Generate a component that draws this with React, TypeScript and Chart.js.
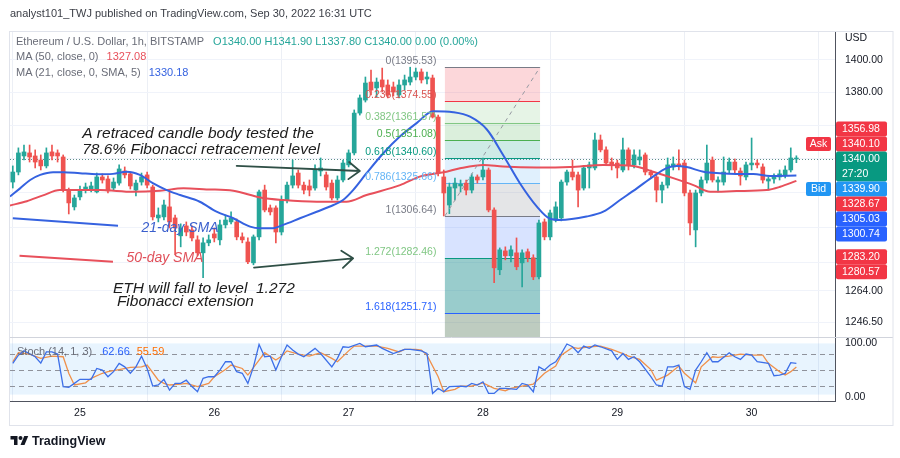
import React, { useEffect, useRef } from "react";
import { Chart, registerables } from "chart.js";

Chart.register(...registerables);

const FONT = '"Liberation Sans", Arial, Helvetica, sans-serif';

// ---------- time axis (hours from 25 Sep 00:00) ----------
const xMinHour = -12.5;
const xMaxHour = 134.9;
const dayTicks = [0, 24, 48, 72, 96, 120];
const dayLabels = ["25", "26", "27", "28", "29", "30"];

// ---------- price axis ----------
const priceMin = 1238.5;
const priceMax = 1417.45;
const priceTicks = [1246.5, 1264, 1280, 1300, 1320, 1340, 1360, 1380, 1400];

// ---------- stochastic axis ----------
const stochMin = -8;
const stochMax = 112;
const stochTicks = [0, 100];
const stochLevels = [80, 50, 20];
const stochBand = [4, 100];

// ---------- candles (1h) ----------
const firstCandleHour = -12;
const opens = [
  1326.4, 1332.3, 1341.8, 1343.6, 1341.8, 1339.4, 1335.9, 1344.2, 1343.6, 1341.2,
  1321.7, 1311.9, 1317.7, 1321.7, 1322.3, 1320.6, 1329.4, 1328.2, 1322.9, 1325.8,
  1332.9, 1331.2, 1321.7, 1326.4, 1330.6, 1323.5, 1305.5, 1306.1, 1311.9, 1305.5,
  1295.2, 1300.9, 1298.6, 1292.9, 1285.5, 1291.2, 1296.3, 1292.9, 1301.5, 1303.2,
  1303.2, 1294.6, 1291.7, 1279.8, 1294.6, 1321.7, 1311.3, 1311.3, 1297.4, 1315.9,
  1324.6, 1331.7, 1324.6, 1324.1, 1322.9, 1332.9, 1330.6, 1325.8, 1317.1, 1327.6,
  1336.5, 1343.6, 1367.5, 1375.4, 1386.4, 1382.8, 1387.7, 1384.6, 1383.4, 1378.5,
  1384.6, 1386.4, 1389.5, 1392.6, 1388.3, 1388.9, 1365.1, 1329.4, 1313.0, 1322.9,
  1324.1, 1325.8, 1321.7, 1329.4, 1329.4, 1333.5, 1310.1, 1275.9, 1286.6, 1283.8,
  1285.5, 1279.8, 1286.1, 1282.7, 1271.9, 1303.2, 1294.6, 1304.3, 1305.5, 1326.4,
  1332.3, 1330.6, 1322.9, 1334.7, 1334.7, 1351.3, 1345.4, 1338.2, 1337.6, 1333.5,
  1345.4, 1336.5, 1339.4, 1342.4, 1332.3, 1329.4, 1321.7, 1324.6, 1335.3, 1337.1,
  1337.6, 1320.0, 1298.6, 1320.0, 1327.6, 1339.4, 1326.4, 1326.4, 1333.5, 1338.2,
  1332.9, 1329.4, 1336.5, 1337.6, 1335.3, 1327.0, 1328.2, 1329.4, 1330.6, 1333.5,
  1340.0,
];
const highs = [
  1335.9, 1346.6, 1348.3, 1348.3, 1345.4, 1342.4, 1346.6, 1348.3, 1345.4, 1342.4,
  1322.9, 1318.8, 1324.1, 1325.8, 1326.4, 1331.7, 1331.2, 1330.0, 1328.8, 1336.5,
  1335.3, 1332.3, 1327.6, 1331.7, 1332.3, 1324.6, 1311.3, 1315.9, 1321.7, 1307.2,
  1302.1, 1303.2, 1300.9, 1295.2, 1294.0, 1295.7, 1299.7, 1304.3, 1307.2, 1309.0,
  1304.9, 1296.9, 1294.0, 1295.7, 1321.7, 1324.6, 1313.0, 1312.5, 1318.3, 1326.4,
  1339.4, 1333.5, 1326.4, 1327.6, 1336.5, 1340.6, 1332.3, 1327.6, 1330.0, 1339.4,
  1345.4, 1369.4, 1378.5, 1389.5, 1393.8, 1388.9, 1395.0, 1387.7, 1386.4, 1387.7,
  1390.7, 1395.53, 1395.0, 1394.5, 1392.6, 1390.7, 1366.3, 1333.5, 1325.8, 1328.8,
  1327.6, 1327.6, 1331.2, 1330.6, 1340.6, 1334.7, 1311.3, 1288.3, 1288.9, 1289.5,
  1294.0, 1287.2, 1287.7, 1284.4, 1304.3, 1304.9, 1310.1, 1314.8, 1327.6, 1333.5,
  1339.4, 1332.3, 1335.9, 1338.2, 1355.5, 1354.3, 1347.2, 1340.6, 1339.4, 1352.5,
  1346.6, 1345.4, 1345.4, 1343.6, 1333.5, 1330.6, 1326.4, 1340.6, 1341.2, 1345.4,
  1339.4, 1321.7, 1321.7, 1329.4, 1348.3, 1341.2, 1329.4, 1341.2, 1340.6, 1340.0,
  1334.7, 1338.2, 1352.5, 1339.4, 1337.1, 1329.4, 1331.2, 1333.5, 1335.9, 1346.6,
  1341.9,
];
const lows = [
  1322.9, 1330.6, 1339.4, 1338.2, 1334.7, 1333.5, 1334.7, 1339.4, 1338.2, 1320.6,
  1307.8, 1310.1, 1315.9, 1320.0, 1320.6, 1320.0, 1325.8, 1320.0, 1321.7, 1324.6,
  1328.8, 1322.3, 1318.3, 1324.6, 1322.9, 1304.3, 1303.2, 1304.3, 1299.7, 1284.4,
  1288.9, 1295.2, 1292.3, 1283.8, 1271.4, 1289.5, 1291.7, 1290.0, 1299.7, 1302.1,
  1292.9, 1291.2, 1279.3, 1278.7, 1292.9, 1309.0, 1307.2, 1291.2, 1295.7, 1314.2,
  1322.9, 1322.9, 1319.4, 1318.3, 1321.7, 1330.0, 1321.7, 1315.9, 1315.9, 1326.4,
  1335.3, 1342.4, 1366.3, 1374.2, 1378.5, 1377.3, 1380.3, 1376.7, 1377.9, 1376.7,
  1381.5, 1384.6, 1387.7, 1385.8, 1385.2, 1364.5, 1330.0, 1306.64, 1308.0, 1315.9,
  1320.6, 1318.8, 1320.0, 1325.8, 1327.6, 1309.0, 1268.6, 1273.1, 1281.5, 1280.4,
  1275.9, 1266.3, 1280.4, 1270.3, 1270.8, 1292.9, 1292.9, 1303.2, 1303.8, 1324.6,
  1327.6, 1311.9, 1321.7, 1322.9, 1333.5, 1344.2, 1336.5, 1333.5, 1328.8, 1332.3,
  1333.5, 1334.7, 1336.5, 1330.6, 1328.8, 1314.8, 1314.2, 1322.9, 1333.5, 1333.5,
  1318.3, 1295.7, 1288.9, 1318.3, 1325.8, 1326.4, 1320.6, 1324.6, 1331.7, 1331.7,
  1324.6, 1327.6, 1333.5, 1334.7, 1325.8, 1321.7, 1325.8, 1327.6, 1328.8, 1332.3,
  1337.8,
];
const closes = [
  1332.3, 1343.6, 1344.2, 1341.2, 1338.2, 1335.9, 1343.6, 1341.8, 1341.8, 1321.7,
  1314.2, 1317.1, 1321.7, 1323.5, 1324.1, 1329.4, 1327.6, 1321.2, 1326.4, 1334.1,
  1330.6, 1324.1, 1325.8, 1329.4, 1324.6, 1306.1, 1307.2, 1313.0, 1303.2, 1299.7,
  1299.7, 1297.4, 1294.0, 1285.5, 1291.2, 1292.9, 1294.0, 1301.5, 1304.3, 1305.5,
  1294.6, 1292.9, 1280.4, 1294.6, 1320.6, 1310.1, 1309.0, 1297.4, 1315.9, 1324.6,
  1330.0, 1324.6, 1321.7, 1321.7, 1333.5, 1334.7, 1323.5, 1317.1, 1327.6, 1337.6,
  1343.6, 1367.5, 1376.7, 1385.8, 1381.5, 1386.4, 1383.4, 1378.5, 1380.3, 1384.6,
  1387.7, 1389.5, 1392.6, 1387.7, 1389.5, 1365.1, 1331.7, 1320.0, 1323.5, 1325.8,
  1325.2, 1321.7, 1329.4, 1327.6, 1333.5, 1310.1, 1277.0, 1287.2, 1283.8, 1287.2,
  1277.6, 1285.5, 1282.7, 1271.9, 1302.6, 1294.6, 1308.4, 1311.9, 1326.4, 1332.3,
  1329.4, 1321.7, 1334.7, 1336.5, 1351.3, 1345.4, 1337.6, 1336.5, 1334.7, 1345.4,
  1336.5, 1342.4, 1341.2, 1332.3, 1330.6, 1321.7, 1324.6, 1336.5, 1337.1, 1335.9,
  1320.0, 1302.6, 1320.0, 1327.6, 1337.6, 1327.6, 1327.6, 1332.3, 1338.2, 1333.5,
  1330.0, 1336.5, 1337.6, 1336.5, 1327.6, 1328.2, 1329.4, 1331.2, 1333.5, 1340.6,
  1340.0,
];
const lastPrice = 1340.0;

// ---------- moving averages ----------
const ma21Hours = [
  -12.5, -10.7, -8.9, -7.1, -4.8, -3.0, 0, 3.0, 5.9, 8.3, 10.7, 13.1, 15.5, 17.9, 21.4,
  24.4, 27.4, 30.4, 32.2, 34.5, 36.3, 39.3, 42.3, 45.3, 47.0, 48.8, 51.2, 54.2, 57.2,
  60.2, 63.1, 66.7, 69.7, 72.7, 75.6, 78.6, 81.6, 84.0, 85.8, 90.5, 93.5, 96.5, 99.5,
  102.4, 104.8, 106.6, 108.4, 111.4, 114.3, 117.3, 120.3, 123.3, 128.0,
];
const ma21Values = [
  1317.9, 1322.7, 1327.6, 1330.6, 1332.2, 1332.2, 1331.6, 1331.0, 1331.2, 1332.5, 1330.6,
  1325.6, 1321.7, 1318.8, 1314.9, 1309.1, 1305.3, 1300.5, 1299.6, 1299.6, 1301.5, 1305.3,
  1309.1, 1313.0, 1315.9, 1321.7, 1331.6, 1343.4, 1353.5, 1361.6, 1368.6, 1368.0, 1365.3,
  1357.6, 1342.4, 1325.7, 1312.2, 1305.0, 1304.3, 1306.3, 1309.1, 1315.9, 1322.7, 1329.6,
  1334.6, 1335.9, 1335.2, 1332.5, 1331.6, 1331.2, 1331.2, 1330.0, 1330.18,
];
const ma50Hours = [
  -12.5, -9.5, -6.6, -3.6, -0.6, 3.6, 9.5, 14.3, 18.5, 22.6, 27.4, 32.2, 36.3, 42.3, 47.6,
  51.2, 57.2, 60.7, 65.5, 67.9, 72.1, 75.6, 81.6, 87.5, 93.5, 98.9, 102.4, 106.0, 109.6,
  112.6, 117.3, 122.7, 125.1, 128.0,
];
const ma50Values = [
  1312.7, 1315.2, 1318.6, 1321.7, 1321.7, 1321.7, 1320.7, 1321.3, 1322.7, 1322.1, 1321.3,
  1317.4, 1315.9, 1314.9, 1314.9, 1318.8, 1324.6, 1329.6, 1332.5, 1334.5, 1336.5, 1335.5,
  1334.9, 1335.2, 1336.5, 1335.9, 1332.5, 1328.7, 1324.6, 1320.7, 1321.1, 1321.7, 1323.6,
  1327.08,
];

// ---------- stochastic (14, 1, 3) ----------
const stochKHours = [
  -12, -11, -10, -8, -7, -6, -5, -4, -3, -2, -1, 0, 2, 3, 4, 5, 6, 7, 8, 9,
  10, 11, 12, 13, 14, 15, 16, 17, 18, 19, 20, 21, 22, 23, 24, 25, 26, 27, 28, 29,
  30, 31, 32, 33, 34, 35, 36, 37, 38, 39, 40, 42, 43, 45, 46, 47, 48, 50, 51, 53,
  54, 56, 58, 59, 61, 62, 63, 64, 65, 66, 68, 69, 70, 71, 72, 73, 74, 75, 76, 78,
  79, 80, 81, 82, 83, 84, 85, 86, 87, 88, 89, 90, 91, 92, 93, 95, 96, 97, 98, 99,
  100, 102, 103, 104, 105, 106, 107, 108, 109, 110, 111, 112, 113, 114, 116, 117, 118, 119, 120, 121,
  123, 124, 125, 126, 127, 128,
];
const stochKValues = [
  62.6, 78, 86, 75, 63, 84, 84, 80, 19, 17.5, 25, 32.6, 32.6, 53, 50, 37.5, 47, 62.6, 56, 44,
  56, 76, 53, 20, 22, 32.6, 12.5, 25, 25, 31, 19, 9.4, 34.5, 37.5, 37.5, 50, 65.6, 65.6, 47, 44,
  25, 56, 98, 75, 76, 50, 75, 97, 87.5, 80, 75, 90.7, 81, 56, 72, 93.7, 92.6, 100, 93.7, 97,
  90.7, 81, 88.8, 88.8, 86, 81, 6.3, 15.6, 9.4, 18.8, 20, 18.8, 25, 22, 28, 6.3, 6.3, 15.6, 15.6, 13.8,
  25, 22, 9.4, 56, 50, 59.4, 65.6, 81, 98.8, 93.7, 82.5, 95, 90.7, 97, 93.7, 86, 70, 81, 70, 75,
  65.6, 37.5, 22, 20, 56, 56, 59.4, 19, 14, 50, 65.6, 82.5, 65.6, 65.6, 82.5, 75, 70, 80, 78, 65.6,
  62.6, 39.4, 40.6, 43.8, 63.8, 62.66,
];
const stochDHours = [
  -12, -11, -9, -7, -5, -3, -2, -1, 1, 2, 4, 5, 7, 9, 11, 12, 14, 15, 16, 18,
  19, 21, 23, 24, 26, 27, 29, 30, 32, 33, 35, 36, 37, 39, 41, 43, 45, 46, 48, 49,
  51, 53, 55, 57, 58, 60, 61, 62, 64, 65, 67, 68, 70, 72, 74, 76, 77, 79, 81, 83,
  85, 86, 88, 89, 91, 93, 95, 97, 98, 100, 102, 103, 105, 107, 108, 110, 111, 113, 114, 116,
  118, 120, 122, 123, 125, 126, 127, 128,
];
const stochDValues = [
  65.6, 82.5, 80, 72, 76, 75, 44, 22, 26, 34.5, 44, 47, 51, 55, 56, 59.4, 31, 25, 22, 23.8,
  25, 19, 25, 37.5, 51, 59.4, 53, 40.6, 68.8, 82.5, 68.8, 76, 86, 80, 76, 82.5, 72, 65.6, 86, 95,
  95, 95, 90.7, 84, 88.8, 88.8, 87.5, 78, 37.5, 9.4, 13.8, 20, 20, 26, 15.6, 11.3, 15.6, 20, 23.8, 44,
  57.5, 78, 92.6, 90.7, 93.7, 95, 88.8, 81, 76, 70, 51, 31, 40.6, 57.5, 44, 26, 56, 75, 73.8, 76,
  80, 78, 78, 62.6, 47, 40.6, 47, 55.59,
];

// ---------- Fibonacci drawing ----------
const fibFromHour = 65.2;
const fibToHour = 82.2;
const fibRatios = ["0", "0.236", "0.382", "0.5", "0.618", "0.786", "1", "1.272", "1.618", "2.618"];
const fibPrices = [1395.53, 1374.55, 1361.57, 1351.08, 1340.6, 1325.66, 1306.64, 1282.46, 1251.71, 1162.81];
const fibLineColors = ["#787b86", "#f23645", "#81c784", "#4caf50", "#089981", "#64b5f6", "#787b86", "#089981", "#2962ff", "#f23645"];
const fibLabelColors = ["#787b86", "#d9534f", "#81c784", "#4caf50", "#089981", "#64b5f6", "#787b86", "#81c784", "#2962ff"];
const fibFills = [
  "rgba(242,54,69,0.2)",
  "rgba(129,199,132,0.2)",
  "rgba(76,175,80,0.2)",
  "rgba(8,153,129,0.2)",
  "rgba(100,181,246,0.2)",
  "rgba(120,123,134,0.2)",
  "rgba(41,98,255,0.18)",
  "rgba(0,128,128,0.4)",
  "rgba(70,110,75,0.35)",
];

// ---------- price tags on the axis ----------
const tagValues = [1356.98, 1340.1, 1340.0, 1339.9, 1328.67, 1305.03, 1300.74, 1283.2, 1280.57];
const tagColors = ["#f23645", "#f23645", "#089981", "#2196f3", "#f23645", "#2962ff", "#2962ff", "#f23645", "#f23645"];
const tagSideLabels = ["", "Ask", "", "Bid", "", "", "", "", ""];
const countdownText = "27:20";

// ---------- hand-drawn annotations (hour, price) ----------
const noteLines = [
  { text: "A retraced candle body tested the", hour: 0.4, price: 1355.3, size: 15.5, color: "#1c1c1c" },
  { text: "78.6% Fibonacci retracement level", hour: 0.4, price: 1345.4, size: 15.5, color: "#1c1c1c" },
  { text: "ETH will fall to level  1.272", hour: 5.9, price: 1265.5, size: 15.5, color: "#1c1c1c" },
  { text: "Fibonacci extension", hour: 6.6, price: 1258.0, size: 15.5, color: "#1c1c1c" },
  { text: "21-day SMA", hour: 11.0, price: 1299.5, size: 14, color: "#3a5fcd" },
  { text: "50-day SMA", hour: 8.3, price: 1282.4, size: 14, color: "#e0505a" },
];
const legendSegments = [
  { h0: -12.0, p0: 1305.3, h1: 6.8, p1: 1301.0, color: "#3562e0" },
  { h0: -10.8, p0: 1283.9, h1: 5.9, p1: 1280.5, color: "#e8505b" },
];
const arrows = [
  { h0: 28.0, p0: 1335.9, h1: 50.0, p1: 1332.9 },
  { h0: 31.1, p0: 1277.1, h1: 48.8, p1: 1282.4 },
];

const UP = "#26a69a";
const DOWN = "#ef5350";

const tvPlugin = {
  id: "tvExtras",
  beforeDatasetsDraw(chart: any) {
    const { ctx, chartArea: ca } = chart;
    const xs = chart.scales.x;
    const ys = chart.scales.y;
    const ys2 = chart.scales.y2;
    const w = ca.right - ca.left;
    ctx.save();
    // stochastic background band
    const bt = ys2.getPixelForValue(stochBand[1]);
    const bb = ys2.getPixelForValue(stochBand[0]);
    ctx.fillStyle = "rgba(33,150,243,0.1)";
    ctx.fillRect(ca.left, bt, w, bb - bt);
    ctx.strokeStyle = "#8f929b";
    ctx.lineWidth = 1;
    ctx.setLineDash([5, 4]);
    for (const v of stochLevels) {
      const yy = Math.round(ys2.getPixelForValue(v)) + 0.5;
      ctx.beginPath();
      ctx.moveTo(ca.left, yy);
      ctx.lineTo(ca.right, yy);
      ctx.stroke();
    }
    ctx.setLineDash([]);
    // main pane clip
    ctx.beginPath();
    ctx.rect(ca.left, ys.top, w, ys.bottom - ys.top);
    ctx.clip();
    const fx0 = xs.getPixelForValue(fibFromHour);
    const fx1 = xs.getPixelForValue(fibToHour);
    for (let k = 0; k < fibFills.length; k++) {
      const a = ys.getPixelForValue(fibPrices[k]);
      const b = ys.getPixelForValue(fibPrices[k + 1]);
      ctx.fillStyle = fibFills[k];
      ctx.fillRect(fx0, a, fx1 - fx0, b - a);
    }
    ctx.lineWidth = 1;
    for (let k = 0; k < fibPrices.length; k++) {
      const yy = Math.round(ys.getPixelForValue(fibPrices[k])) + 0.5;
      ctx.strokeStyle = fibLineColors[k];
      ctx.beginPath();
      ctx.moveTo(fx0, yy);
      ctx.lineTo(fx1, yy);
      ctx.stroke();
    }
    // last price dotted line
    const ly = Math.round(ys.getPixelForValue(lastPrice)) + 0.5;
    ctx.strokeStyle = "#5f8d8a";
    ctx.setLineDash([1, 2]);
    ctx.beginPath();
    ctx.moveTo(ca.left, ly);
    ctx.lineTo(ca.right, ly);
    ctx.stroke();
    ctx.setLineDash([]);
    ctx.restore();
  },
  afterDatasetsDraw(chart: any) {
    const { ctx, chartArea: ca } = chart;
    const xs = chart.scales.x;
    const ys = chart.scales.y;
    const w = ca.right - ca.left;
    const X = (h: number) => xs.getPixelForValue(h);
    const Y = (p: number) => ys.getPixelForValue(p);
    ctx.save();
    ctx.beginPath();
    ctx.rect(ca.left, ys.top, w, ys.bottom - ys.top);
    ctx.clip();
    const fx0 = X(fibFromHour);
    const fx1 = X(fibToHour);
    // diagonal trend line of the fib tool
    ctx.strokeStyle = "#9598a1";
    ctx.lineWidth = 1;
    ctx.setLineDash([4, 4]);
    ctx.beginPath();
    ctx.moveTo(fx0, Y(fibPrices[6]));
    ctx.lineTo(fx1, Y(fibPrices[0]));
    ctx.stroke();
    ctx.setLineDash([]);
    // fib labels
    ctx.font = `10.5px ${FONT}`;
    ctx.textAlign = "right";
    ctx.textBaseline = "alphabetic";
    for (let k = 0; k < fibLabelColors.length; k++) {
      ctx.fillStyle = fibLabelColors[k];
      ctx.fillText(`${fibRatios[k]}(${fibPrices[k].toFixed(2)})`, fx0 - 8.5, Y(fibPrices[k]) - 3);
    }
    // legend segments
    ctx.lineWidth = 2;
    for (const s of legendSegments) {
      ctx.strokeStyle = s.color;
      ctx.beginPath();
      ctx.moveTo(X(s.h0), Y(s.p0));
      ctx.lineTo(X(s.h1), Y(s.p1));
      ctx.stroke();
    }
    // arrows
    ctx.strokeStyle = "#2f4f46";
    ctx.lineWidth = 1.8;
    ctx.lineCap = "round";
    for (const a of arrows) {
      const x0 = X(a.h0), y0 = Y(a.p0), x1 = X(a.h1), y1 = Y(a.p1);
      const ang = Math.atan2(y1 - y0, x1 - x0);
      ctx.beginPath();
      ctx.moveTo(x0, y0);
      ctx.lineTo(x1, y1);
      for (const sgn of [-1, 1]) {
        ctx.moveTo(x1, y1);
        ctx.lineTo(x1 - 14 * Math.cos(ang + sgn * 0.66), y1 - 14 * Math.sin(ang + sgn * 0.66));
      }
      ctx.stroke();
    }
    // notes
    ctx.textAlign = "left";
    ctx.textBaseline = "middle";
    for (const n of noteLines) {
      ctx.font = `italic ${n.size}px ${FONT}`;
      ctx.fillStyle = n.color;
      ctx.fillText(n.text, X(n.hour), Y(n.price));
    }
    ctx.restore();

    // ---- axis price tags ----
    ctx.save();
    const H = 15;
    const n = tagValues.length;
    const centers: number[] = new Array(n);
    const mainIdx = tagValues.indexOf(lastPrice);
    centers[mainIdx] = Y(tagValues[mainIdx]);
    for (let k = mainIdx - 1; k >= 0; k--) {
      centers[k] = Math.min(Y(tagValues[k]), centers[k + 1] - H);
    }
    let prevBottom = centers[mainIdx] + H * 1.5;
    for (let k = mainIdx + 1; k < n; k++) {
      centers[k] = Math.max(Y(tagValues[k]), prevBottom + H / 2);
      prevBottom = centers[k] + H / 2;
    }
    const tx = ca.right + 1;
    const tw = 51;
    // hide axis labels that sit under the tags
    ctx.fillStyle = "#ffffff";
    for (let k = 0; k < n; k++) {
      const hh = k === mainIdx ? 2 * H : H;
      ctx.fillRect(tx, centers[k] - H / 2 - 4, chart.width - 8 - tx, hh + 8);
    }
    ctx.font = `10.5px ${FONT}`;
    ctx.textBaseline = "middle";
    for (let k = 0; k < n; k++) {
      const hh = k === mainIdx ? 2 * H : H;
      const top = centers[k] - H / 2;
      ctx.fillStyle = tagColors[k];
      ctx.beginPath();
      ctx.roundRect(tx, top, tw, hh, 2);
      ctx.fill();
      ctx.fillStyle = "#ffffff";
      ctx.textAlign = "left";
      ctx.fillText(tagValues[k].toFixed(2), tx + 6, centers[k] + 0.5);
      if (k === mainIdx) ctx.fillText(countdownText, tx + 6, centers[k] + H + 0.5);
      if (tagSideLabels[k]) {
        ctx.fillStyle = tagColors[k];
        ctx.beginPath();
        ctx.roundRect(ca.right - 29, centers[k] - 7, 25, 14, 2);
        ctx.fill();
        ctx.fillStyle = "#ffffff";
        ctx.textAlign = "center";
        ctx.fillText(tagSideLabels[k], ca.right - 16.5, centers[k] + 0.5);
      }
    }
    // currency label
    ctx.fillStyle = "#131722";
    ctx.textAlign = "left";
    ctx.fillText("USD", ca.right + 10, ys.top + 6);
    // pane separator and frame
    ctx.strokeStyle = "#d1d4dc";
    ctx.lineWidth = 1;
    ctx.beginPath();
    ctx.moveTo(ca.left, Math.round(ys.bottom) + 0.5);
    ctx.lineTo(chart.width - 7, Math.round(ys.bottom) + 0.5);
    ctx.stroke();
    ctx.strokeStyle = "#e0e3eb";
    ctx.strokeRect(9.5, 31.5, chart.width - 16.5, chart.height - 64);
    ctx.restore();
  },
};

export default function App() {
  const ref = useRef<HTMLCanvasElement>(null);
  useEffect(() => {
    const canvas = ref.current;
    if (!canvas) return;
    const candleHours = opens.map((_, i) => firstCandleHour + i);
    const colors = opens.map((o, i) => (closes[i] >= o ? UP : DOWN));
    const chart = new Chart(canvas, {
      type: "bar",
      data: {
        datasets: [
          {
            type: "bar",
            data: candleHours.map((h, i) => ({ x: h, y: [lows[i], highs[i]] })) as any,
            backgroundColor: colors,
            barThickness: 1,
            grouped: false,
            borderWidth: 0,
            yAxisID: "y",
            order: 6,
          } as any,
          {
            type: "bar",
            data: candleHours.map((h, i) => ({ x: h, y: [opens[i], closes[i]] })) as any,
            backgroundColor: colors,
            barThickness: 4,
            grouped: false,
            borderWidth: 0,
            minBarLength: 1,
            yAxisID: "y",
            order: 5,
          } as any,
          {
            type: "line",
            data: ma50Hours.map((h, i) => ({ x: h, y: ma50Values[i] })),
            borderColor: "#e8505b",
            borderWidth: 2,
            pointRadius: 0,
            cubicInterpolationMode: "monotone",
            yAxisID: "y",
            order: 2,
          } as any,
          {
            type: "line",
            data: ma21Hours.map((h, i) => ({ x: h, y: ma21Values[i] })),
            borderColor: "#3562e0",
            borderWidth: 2,
            pointRadius: 0,
            cubicInterpolationMode: "monotone",
            yAxisID: "y",
            order: 1,
          } as any,
          {
            type: "line",
            data: stochDHours.map((h, i) => ({ x: h, y: stochDValues[i] })),
            borderColor: "#f0904a",
            borderWidth: 1.3,
            pointRadius: 0,
            tension: 0,
            yAxisID: "y2",
            order: 1,
          } as any,
          {
            type: "line",
            data: stochKHours.map((h, i) => ({ x: h, y: stochKValues[i] })),
            borderColor: "#3d6fe8",
            borderWidth: 1.3,
            pointRadius: 0,
            tension: 0,
            yAxisID: "y2",
            order: 0,
          } as any,
        ],
      },
      options: {
        animation: false,
        responsive: false,
        events: [],
        layout: { padding: { left: 10, top: 32, right: 7, bottom: 33 } },
        plugins: { legend: { display: false }, tooltip: { enabled: false } },
        scales: {
          x: {
            type: "linear",
            min: xMinHour,
            max: xMaxHour,
            offset: false,
            afterBuildTicks: (s: any) => {
              s.ticks = dayTicks.map((v) => ({ value: v }));
            },
            afterFit: (s: any) => {
              s.height = 24;
            },
            ticks: {
              autoSkip: false,
              maxRotation: 0,
              padding: 6,
              color: "#131722",
              font: { family: FONT, size: 10.5 },
              callback: (v: any) => {
                const k = dayTicks.indexOf(Number(v));
                return k >= 0 ? dayLabels[k] : "";
              },
            },
            grid: { color: "#eceff5", drawTicks: false },
            border: { display: true, color: "#50535e", width: 1 },
          },
          y: {
            type: "logarithmic",
            position: "right",
            min: priceMin,
            max: priceMax,
            stack: "panes",
            stackWeight: 305,
            afterBuildTicks: (s: any) => {
              s.ticks = priceTicks.map((v) => ({ value: v }));
            },
            afterFit: (s: any) => {
              s.width = 58;
            },
            ticks: {
              autoSkip: false,
              padding: 10,
              color: "#131722",
              font: { family: FONT, size: 10.5 },
              callback: (v: any) => Number(v).toFixed(2),
            },
            grid: { color: "#f0f3fa", drawTicks: false },
            border: { display: true, color: "#50535e", width: 1 },
          } as any,
          y2: {
            type: "linear",
            position: "right",
            min: stochMin,
            max: stochMax,
            stack: "panes",
            stackWeight: 64,
            afterBuildTicks: (s: any) => {
              s.ticks = stochTicks.map((v) => ({ value: v }));
            },
            afterFit: (s: any) => {
              s.width = 58;
            },
            ticks: {
              autoSkip: false,
              padding: 10,
              color: "#131722",
              font: { family: FONT, size: 10.5 },
              callback: (v: any) => Number(v).toFixed(2),
            },
            grid: { display: false, drawTicks: false },
            border: { display: true, color: "#50535e", width: 1 },
          } as any,
        },
      } as any,
      plugins: [tvPlugin as any],
    });
    return () => chart.destroy();
  }, []);

  const base: React.CSSProperties = {
    position: "absolute",
    whiteSpace: "pre",
    fontFamily: FONT,
    fontSize: 11,
    lineHeight: "14px",
  };
  const gray = "#6a6d78";
  const teal = "#26a69a";

  return (
    <div
      style={{
        position: "fixed",
        left: 0,
        top: 0,
        width: 900,
        height: 458,
        background: "#ffffff",
        overflow: "hidden",
      }}
    >
      <canvas
        ref={ref}
        width={900}
        height={458}
        style={{ position: "absolute", left: 0, top: 0, width: 900, height: 458 }}
      />
      <div style={{ ...base, left: 10, top: 6, color: "#3b3e46" }}>
        analyst101_TWJ published on TradingView.com, Sep 30, 2022 16:31 UTC
      </div>
      <div style={{ ...base, left: 16, top: 34 }}>
        <span style={{ color: gray }}>Ethereum / U.S. Dollar, 1h, BITSTAMP</span>
        <span style={{ color: teal, marginLeft: 9 }}>
          O1340.00 H1341.90 L1337.80 C1340.00 0.00 (0.00%)
        </span>
      </div>
      <div style={{ ...base, left: 16, top: 49 }}>
        <span style={{ color: gray }}>MA (50, close, 0)</span>
        <span style={{ color: "#e8505b", marginLeft: 8 }}>1327.08</span>
      </div>
      <div style={{ ...base, left: 16, top: 65 }}>
        <span style={{ color: gray }}>MA (21, close, 0, SMA, 5)</span>
        <span style={{ color: "#3562e0", marginLeft: 8 }}>1330.18</span>
      </div>
      <div style={{ ...base, left: 17, top: 344 }}>
        <span style={{ color: gray }}>Stoch (14, 1, 3)</span>
        <span style={{ color: "#2962ff", marginLeft: 10 }}>62.66</span>
        <span style={{ color: "#ff6d00", marginLeft: 7 }}>55.59</span>
      </div>
      <div style={{ position: "absolute", left: 10, top: 434, display: "flex", alignItems: "center" }}>
        <svg width="19" height="14" viewBox="0 0 36 28">
          <path d="M14 22H7V11H0V4h14v18z" fill="#131722" />
          <circle cx="20" cy="8" r="4" fill="#131722" />
          <path d="M28 22h-8l7.5-18h8L28 22z" fill="#131722" />
        </svg>
        <span
          style={{
            marginLeft: 3,
            fontFamily: FONT,
            fontSize: 12.5,
            fontWeight: 600,
            color: "#131722",
            lineHeight: "14px",
          }}
        >
          TradingView
        </span>
      </div>
    </div>
  );
}
